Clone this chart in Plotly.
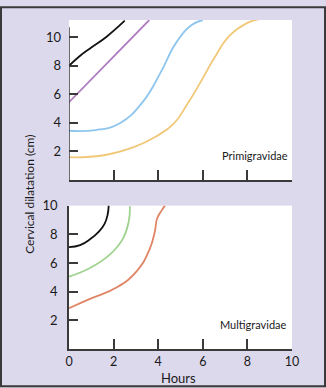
import plotly.graph_objects as go

# ---- data ----
prim_black_x = [0, 0.5, 1.0, 1.7, 2.5]
prim_black_y = [8.0, 8.7, 9.27, 10.05, 11.15]
prim_purple_x = [0, 3.6]
prim_purple_y = [5.45, 11.2]
prim_blue_x = [0, 1.2, 2.3, 3.3, 4.1, 4.8, 5.5, 6.0]
prim_blue_y = [3.45, 3.5, 4.0, 5.45, 7.5, 9.6, 10.85, 11.2]
prim_yellow_x = [0, 1.5, 2.9, 3.9, 4.7, 5.3, 5.9, 6.5, 7.2, 8.0, 8.5]
prim_yellow_y = [1.6, 1.72, 2.3, 3.05, 3.95, 5.3, 6.85, 8.5, 10.1, 11.0, 11.25]

multi_black_x = [0, 0.5, 0.94, 1.35, 1.6, 1.73, 1.78]
multi_black_y = [7.1, 7.25, 7.65, 8.2, 8.75, 9.35, 10.0]
multi_green_x = [0, 0.94, 1.84, 2.42, 2.68, 2.73]
multi_green_y = [5.05, 5.65, 6.6, 7.7, 8.9, 9.95]
multi_orange_x = [0, 0.94, 2.15, 3.05, 3.6, 3.85, 3.95, 4.15, 4.3]
multi_orange_y = [2.85, 3.5, 4.3, 5.45, 6.9, 8.2, 9.1, 9.65, 10.0]

x_ticks = [0, 2, 4, 6, 8, 10]
y_ticks = [2, 4, 6, 8, 10]

BG = "#ddd9ed"
AX = "#3a3a3a"
FONT = "Lato"
TXT = "#1a1a1a"

fig = go.Figure()

def add(x, y, color, xa, ya, shape="spline"):
    fig.add_trace(go.Scatter(x=x, y=y, mode="lines", xaxis=xa, yaxis=ya,
                             line=dict(color=color, width=1.8, shape=shape, smoothing=1.3),
                             showlegend=False, hoverinfo="skip"))

add(prim_black_x, prim_black_y, "#111111", "x", "y")
add(prim_purple_x, prim_purple_y, "#b07cc0", "x", "y", "linear")
add(prim_blue_x, prim_blue_y, "#8ec6ee", "x", "y")
add(prim_yellow_x, prim_yellow_y, "#f0c878", "x", "y")
add(multi_black_x, multi_black_y, "#111111", "x2", "y2")
add(multi_green_x, multi_green_y, "#9fd38f", "x2", "y2")
add(multi_orange_x, multi_orange_y, "#e08466", "x2", "y2")

W, H = 326, 388
L, R, T, B = 69, 34, 14, 39
pw, ph = W - L - R, H - T - B

top_dom = [(349 - 177) / ph, 1.0]
bot_dom = [0.0, (349 - 203) / ph]

tickfont = dict(family=FONT, size=13, color=TXT)
xtickfont = dict(family=FONT, size=12.5, color=TXT)

fig.update_layout(
    width=W, height=H,
    margin=dict(l=L, r=R, t=T, b=B),
    paper_bgcolor=BG, plot_bgcolor="white",
    font=dict(family=FONT, color=TXT),
    xaxis=dict(domain=[0, 1], range=[0, 10], anchor="y", tickvals=x_ticks,
               showticklabels=False, ticks="inside", ticklen=10, tickwidth=1.5,
               tickcolor=AX, showline=True, linecolor=AX, linewidth=1.5,
               showgrid=False, zeroline=False, fixedrange=True),
    yaxis=dict(domain=top_dom, range=[0, 11.2], anchor="x", tickvals=y_ticks,
               ticks="inside", ticklen=9, tickwidth=1.5, tickcolor=AX,
               showline=False, showgrid=False, zeroline=False, tickfont=tickfont,
               ticklabelstandoff=7),
    xaxis2=dict(domain=[0, 1], range=[0, 10], anchor="y2", tickvals=x_ticks,
                ticks="inside", ticklen=10, tickwidth=1.5, tickcolor=AX,
                showline=True, linecolor=AX, linewidth=1.5, showgrid=False,
                zeroline=False, tickfont=xtickfont),
    yaxis2=dict(domain=bot_dom, range=[0, 10], anchor="x2", tickvals=y_ticks,
                ticks="inside", ticklen=9, tickwidth=1.5, tickcolor=AX,
                showline=True, linecolor=AX, linewidth=1.5, showgrid=False,
                zeroline=False, tickfont=tickfont, ticklabelstandoff=7),
)

# top y-axis line stops short of the plot top
fig.add_shape(type="line", xref="x", yref="y", x0=0, x1=0, y0=0, y1=10.7,
              line=dict(color=AX, width=1.5))

# frame around the whole picture
fig.add_shape(type="rect", xref="paper", yref="paper",
              x0=(1 - L) / pw, x1=(W - 1 - L) / pw,
              y0=-(B - 1) / ph, y1=1 + (T - 1) / ph,
              line=dict(color=AX, width=2), fillcolor="rgba(0,0,0,0)")

fig.add_annotation(text="Primigravidae", xref="x domain", yref="y domain",
                   x=0.99, y=(177 - 152) / (177 - 14), xanchor="right", yanchor="middle",
                   showarrow=False, font=dict(family=FONT, size=11, color=TXT))
fig.add_annotation(text="Multigravidae", xref="x2 domain", yref="y2 domain",
                   x=0.985, y=(349 - 324) / (349 - 203), xanchor="right", yanchor="middle",
                   showarrow=False, font=dict(family=FONT, size=11, color=TXT))
fig.add_annotation(text="Cervical dilatation (cm)", xref="paper", yref="paper",
                   x=(30 - L) / pw, y=(349 - 192) / ph, textangle=-90,
                   xanchor="center", yanchor="middle", showarrow=False,
                   font=dict(family=FONT, size=12, color=TXT))
fig.add_annotation(text="Hours", xref="paper", yref="paper",
                   x=0.49, y=(349 - 379) / ph, xanchor="center", yanchor="middle",
                   showarrow=False, font=dict(family=FONT, size=13, color=TXT))

fig.write_html("out.html")
